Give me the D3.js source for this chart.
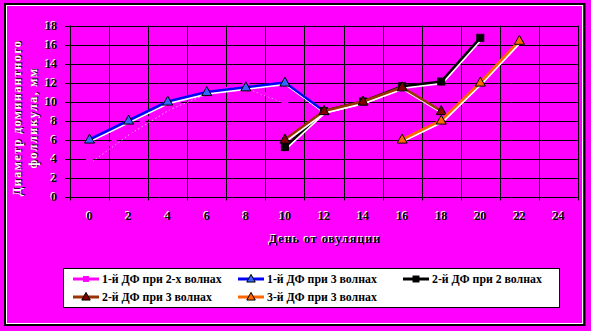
<!DOCTYPE html>
<html><head><meta charset="utf-8">
<script src="https://cdn.jsdelivr.net/npm/d3@7"></script>
<style>html,body{margin:0;padding:0;background:#FF00FF;}svg{display:block;}</style>
</head><body>
<script>
const days = ["0","2","4","6","8","10","12","14","16","18","20","22","24"];
const yTicks = [0,2,4,6,8,10,12,14,16,18];
const s1 = [4,7,9.5,11.2,11.6,10,null,null,null,null,null,null,null];           // 1-й ДФ при 2-х волнах
const s2 = [6,8,10,11,11.5,12,9,null,null,null,null,null,null];                 // 1-й ДФ при 3 волнах
const s3 = [null,null,null,null,null,5.2,9,10,11.6,12.1,16.7,null,null];         // 2-й ДФ при 2 волнах
const s4 = [null,null,null,null,null,6,9,10,11.5,9,null,null,null];              // 2-й ДФ при 3 волнах
const s5 = [null,null,null,null,null,null,null,null,6,8,12,16.4,null];           // 3-й ДФ при 3 волнах
const names = ["1-й ДФ  при 2-х волнах","1-й ДФ  при 3 волнах","2-й ДФ  при 2 волнах","2-й ДФ  при 3 волнах","3-й ДФ  при 3 волнах"];
const yTitle = ["Диаметр доминантного","фолликула, мм"];
const xTitle = "День от овуляции";

const series = [
  {name:names[0], vals:s1, line:"#FF00FF", fill:"#FF00FF", stroke:"none", shape:"square", hidden:true},
  {name:names[1], vals:s2, line:"#0000FF", fill:"#3366FF", stroke:"#000", shape:"tri"},
  {name:names[2], vals:s3, line:"#000000", fill:"#000000", stroke:"#000", shape:"square"},
  {name:names[3], vals:s4, line:"#993300", fill:"#800000", stroke:"#000", shape:"tri"},
  {name:names[4], vals:s5, line:"#FF6600", fill:"#FF6600", stroke:"#000", shape:"tri"}
];

const W=591,H=331;
const svg=d3.select("body").append("svg").attr("width",W).attr("height",H);
svg.append("rect").attr("width",W).attr("height",H).attr("fill","#FF00FF");

const L=70,R=578,T=25.5,B=196.5;
const x=d3.scaleBand().domain(days).range([L,R]).padding(0);
const cx=d=>x(d)+x.bandwidth()/2;
const y=d3.scaleLinear().domain([0,18]).range([B,T]);
const font="'Liberation Serif','Times New Roman',serif";

// grid
const g=svg.append("g");
yTicks.forEach(v=>{
  g.append("line").attr("x1",L-5).attr("x2",R).attr("y1",Math.round(y(v))+0.5).attr("y2",Math.round(y(v))+0.5)
   .attr("stroke","#000").attr("stroke-width",1);
});
for(let i=0;i<=days.length;i++){
  const xx=Math.round(L+i*x.bandwidth())+0.5;
  g.append("line").attr("x1",xx).attr("x2",xx).attr("y1",T).attr("y2",B+4)
   .attr("stroke","#000").attr("stroke-width",1);
}

function shadowText(sel,txt,attrs,fg,bg,dx,dy){
  const grp=sel.append("g");
  const a=grp.append("text").text(txt).attr("fill",bg).attr("transform",`translate(${dx},${dy})`);
  const b=grp.append("text").text(txt).attr("fill",fg);
  [a,b].forEach(t=>{for(const k in attrs)t.attr(k,attrs[k]);});
  return grp;
}
// y tick labels
yTicks.forEach(v=>{
  shadowText(svg,String(v),{x:57,y:y(v)+4,"text-anchor":"end","font-family":font,"font-weight":"bold","font-size":"12px"},"#000","#fff",-1,-0.6);
});
// x tick labels
days.forEach(d=>{
  shadowText(svg,d,{x:cx(d),y:220,"text-anchor":"middle","font-family":font,"font-weight":"bold","font-size":"12px"},"#000","#fff",-1,-0.6);
});
// x title
shadowText(svg,xTitle,{x:325,y:243,"text-anchor":"middle","font-family":font,"font-weight":"bold","font-size":"12px","letter-spacing":"1px"},"#000","#fff",-1,-0.6);
// y title
[[17,yTitle[0]],[33,yTitle[1]]].forEach(([xx,t])=>{
  const grp=svg.append("g").attr("transform",`translate(${xx+4},118) rotate(-90)`);
  shadowText(grp,t,{x:0,y:0,"text-anchor":"middle","font-family":font,"font-weight":"bold","font-size":"12.5px","letter-spacing":"1.2px"},"#fff","#000",0.8,0.8);
});

// series
const lineGen=d3.line().defined(d=>d.v!=null).x(d=>cx(d.c)).y(d=>y(d.v));
function marker(sel,s,px,py,scale){
  scale=scale||1;
  if(s.shape==="square"){
    const k=7*scale;
    sel.append("rect").attr("x",px-k/2).attr("y",py-k/2).attr("width",k).attr("height",k)
      .attr("fill",s.fill).attr("stroke",s.stroke==="none"?"none":"#000").attr("stroke-width",1);
  } else {
    const w=10*scale,h=9*scale;
    sel.append("path").attr("d",`M${px},${py-h*0.6}L${px+w/2},${py+h*0.4}L${px-w/2},${py+h*0.4}Z`)
      .attr("fill",s.fill).attr("stroke","#000").attr("stroke-width",1);
  }
}
series.forEach(s=>{
  const pts=days.map((c,i)=>({c,v:s.vals[i]}));
  const gs=svg.append("g");
  if(s.hidden){
    gs.append("path").attr("d",lineGen(pts)).attr("fill","none").attr("stroke","#fff").attr("stroke-width",1)
      .attr("stroke-dasharray","1.5,2.5").attr("transform","translate(3,3)").attr("opacity",0.7);
    gs.append("path").attr("d",lineGen(pts)).attr("fill","none").attr("stroke",s.line).attr("stroke-width",3);
  } else {
    gs.append("path").attr("d",lineGen(pts)).attr("fill","none").attr("stroke","#fff").attr("stroke-width",3)
      .attr("transform","translate(0.8,1.2)");
    gs.append("path").attr("d",lineGen(pts)).attr("fill","none").attr("stroke",s.line).attr("stroke-width",2.6);
  }
  pts.filter(p=>p.v!=null).forEach(p=>marker(gs,s,cx(p.c),y(p.v)));
});

// legend
const lg=svg.append("g");
lg.append("rect").attr("x",63.5).attr("y",268.5).attr("width",496).attr("height",39).attr("fill","#fff").attr("stroke","#000").attr("stroke-width",1);
const legPos=[[73,279],[238,279],[403,279],[73,297],[238,297]];
series.forEach((s,i)=>{
  const [lx,ly]=legPos[i];
  lg.append("line").attr("x1",lx).attr("x2",lx+26).attr("y1",ly).attr("y2",ly).attr("stroke",s.line).attr("stroke-width",3);
  marker(lg,s,lx+13,ly,0.85);
  lg.append("text").text(s.name).attr("x",lx+29).attr("y",ly+4).attr("font-family",font).attr("font-weight","bold").attr("font-size","11.8px").attr("fill","#000");
});

// frame
svg.append("rect").attr("x",5).attr("y",4).attr("width",579.5).attr("height",321).attr("fill","none").attr("stroke","#000").attr("stroke-width",2);
svg.append("rect").attr("x",6.5).attr("y",5.5).attr("width",576).attr("height",318).attr("fill","none").attr("stroke","#fff").attr("stroke-width",1);
</script>
</body></html>
